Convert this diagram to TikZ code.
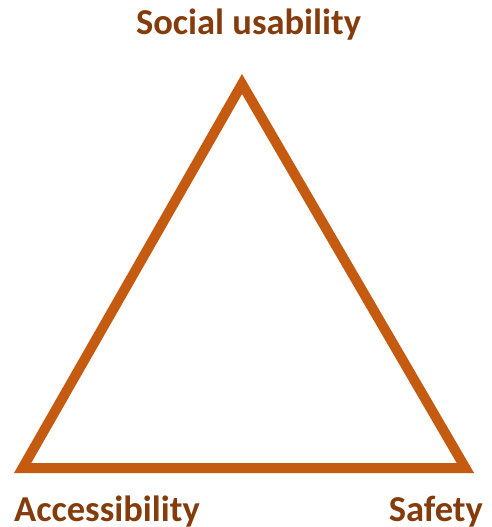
\documentclass[tikz,border=0pt]{standalone}
\usepackage{fontspec}
\setmainfont{Carlito}
\definecolor{triorange}{HTML}{C55A11}
\definecolor{labelbrown}{HTML}{843C0C}
\begin{document}
\begin{tikzpicture}[x=1pt,y=-1pt,
  lbl/.style={font=\fontsize{36.5}{42}\selectfont\bfseries, text=labelbrown, inner sep=0pt, anchor=base},
  tri/.style={draw=triorange, line width=10pt, line join=miter}]
\useasboundingbox (0,0) rectangle (492,527);
\coordinate (top) at (242,84);
\coordinate (bl) at (22.6,468);
\coordinate (br) at (465.4,468);
\draw[tri] (top) -- (bl) -- (br) -- cycle;
\node[lbl] (social) at (248.5,35) {Social usability};
\node[lbl, anchor=base west] (access) at (14,521) {Accessibility};
\node[lbl, anchor=base east] (safety) at (483,521) {Safety};
\end{tikzpicture}
\end{document}
